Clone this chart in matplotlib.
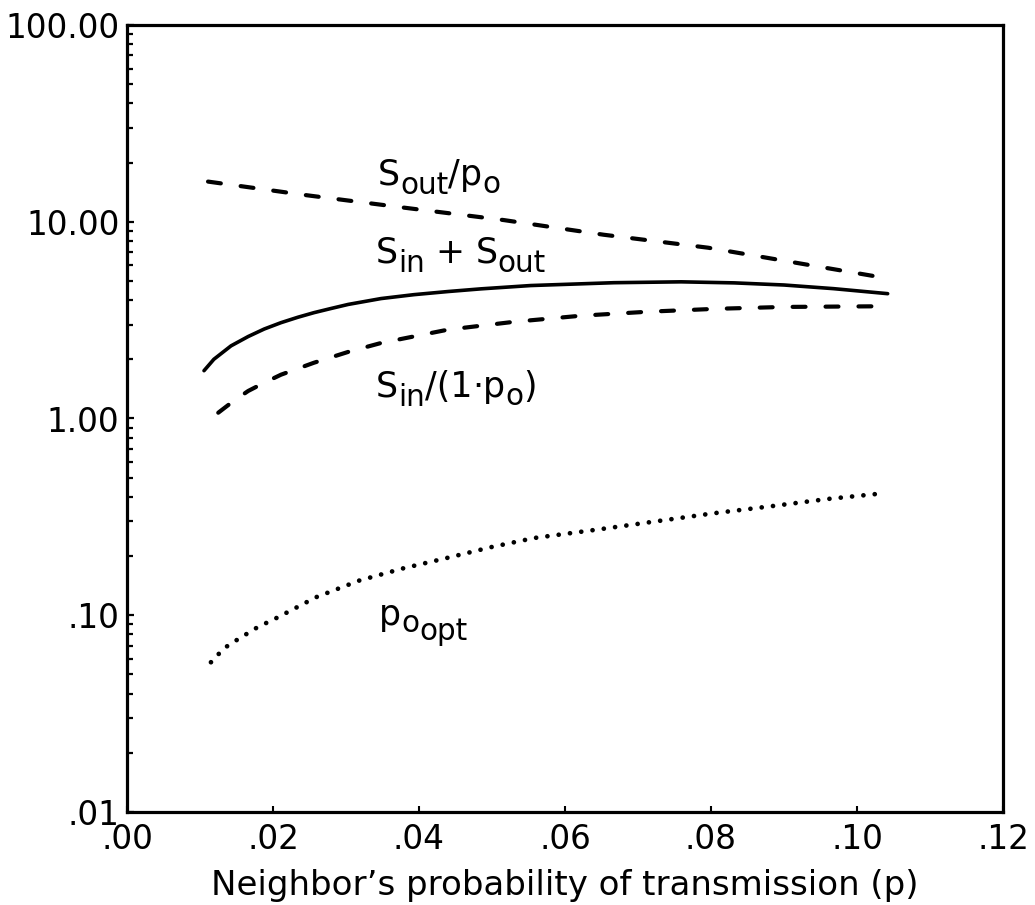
import matplotlib
matplotlib.use("Agg")
import matplotlib.pyplot as plt
from matplotlib.transforms import IdentityTransform
from matplotlib.ticker import FixedLocator, FixedFormatter, LogLocator, NullFormatter

# ---- data ----
p_sout_po = [0.0111, 0.0242, 0.0379, 0.0516, 0.0653, 0.0796, 0.0933, 0.1037]
v_sout_po = [16.0, 13.7, 11.8, 10.2, 8.59, 7.38, 6.04, 5.19]

p_sum = [0.01055, 0.0119, 0.01425, 0.0166, 0.0188, 0.0211, 0.0234, 0.0256,
         0.0279, 0.0303, 0.0348, 0.0393, 0.0440, 0.0485, 0.0553, 0.0667,
         0.0759, 0.0832, 0.0900, 0.0968, 0.1042]
v_sum = [1.75, 2.00, 2.34, 2.61, 2.85, 3.07, 3.27, 3.45,
         3.62, 3.80, 4.07, 4.26, 4.42, 4.56, 4.74, 4.90,
         4.95, 4.89, 4.77, 4.57, 4.31]

p_sin = [0.0125, 0.0145, 0.0166, 0.0188, 0.0211, 0.0256, 0.0303, 0.0348,
         0.0440, 0.0530, 0.0622, 0.0714, 0.0807, 0.0900, 0.1037]
v_sin = [1.07, 1.22, 1.38, 1.52, 1.67, 1.92, 2.18, 2.42,
         2.83, 3.10, 3.33, 3.49, 3.61, 3.69, 3.72]

p_popt = [0.0115, 0.0133, 0.0152, 0.0179, 0.0204, 0.0259, 0.0318, 0.0378,
          0.0437, 0.0499, 0.0558, 0.0649, 0.0727, 0.0804, 0.0882, 0.0960,
          0.1037]
v_popt = [0.0577, 0.068, 0.0755, 0.087, 0.0965, 0.1235, 0.150, 0.173,
          0.195, 0.222, 0.247, 0.274, 0.301, 0.330, 0.358, 0.390,
          0.417]

x_ticks = [0.00, 0.02, 0.04, 0.06, 0.08, 0.10, 0.12]
x_ticklabels = [".00", ".02", ".04", ".06", ".08", ".10", ".12"]
y_ticks = [0.01, 0.1, 1, 10, 100]
y_ticklabels = [".01", ".10", "1.00", "10.00", "100.00"]
x_label = "Neighbor\u2019s probability of transmission (p)"

# ---- figure ----
W, H, DPI = 1035, 905, 100
fig = plt.figure(figsize=(W / DPI, H / DPI), dpi=DPI)
ax = fig.add_axes([127 / W, 1 - 812 / H, (1003 - 127) / W, (812 - 25) / H])

ax.set_yscale("log")
ax.set_xlim(0, 0.12)
ax.set_ylim(0.01, 100)

lw_dash = 3.0
ax.plot(p_sout_po, v_sout_po, color="black", lw=lw_dash,
        dashes=(3.1, 4.8), dash_capstyle="round", solid_joinstyle="round")
ax.plot(p_sum, v_sum, color="black", lw=2.6, solid_capstyle="round",
        solid_joinstyle="round")
ax.plot(p_sin, v_sin, color="black", lw=lw_dash,
        dashes=(3.1, 4.8), dash_capstyle="round", solid_joinstyle="round")
ax.plot(p_popt, v_popt, color="black", lw=3.4,
        dashes=(0.01, 2.4), dash_capstyle="round")

for sp in ax.spines.values():
    sp.set_linewidth(2.3)

ax.xaxis.set_major_locator(FixedLocator(x_ticks))
ax.xaxis.set_major_formatter(FixedFormatter(x_ticklabels))
ax.yaxis.set_major_locator(FixedLocator(y_ticks))
ax.yaxis.set_major_formatter(FixedFormatter(y_ticklabels))
ax.yaxis.set_minor_locator(LogLocator(base=10, subs=range(2, 10)))
ax.yaxis.set_minor_formatter(NullFormatter())

ax.tick_params(axis="x", which="major", direction="in", length=4, width=1.5,
               labelsize=23.5, pad=8, top=False)
ax.tick_params(axis="y", which="major", direction="in", length=5, width=1.6,
               labelsize=23.5, pad=5.5, right=False)
ax.tick_params(axis="y", which="minor", direction="in", length=4, width=1.6,
               right=False)

ax.set_xlabel(x_label, fontsize=24.5)
ax.xaxis.set_label_coords(0.5, -0.072)

# ---- curve labels with subscripts ----
renderer = fig.canvas.get_renderer()
FS = 25


def rich_label(xd, yd, parts):
    x0, y0 = ax.transData.transform((xd, yd))
    x = x0
    for s, dy, sc in parts:
        t = fig.text(x, y0 + dy, s, transform=IdentityTransform(),
                     fontsize=FS * sc, ha="left", va="baseline")
        x += t.get_window_extent(renderer).width


rich_label(0.0344, 15.4, [("S", 0, 1), ("out", -9, 0.85), ("/", 0, 1),
                          ("p", 0, 1), ("o", -8, 0.85)])
rich_label(0.0341, 6.19, [("S", 0, 1), ("in", -9, 0.85), (" + ", 0, 1),
                          ("S", 0, 1), ("out", -9, 0.85)])
rich_label(0.0341, 1.29, [("S", 0, 1), ("in", -9, 0.85), ("/(1", 0, 1),
                          ("\u00b7", 0, 1), ("p", 0, 1), ("o", -8, 0.85),
                          (")", 0, 1)])
rich_label(0.0345, 0.089, [("p", 0, 1), ("o", -7, 0.85), ("opt", -15, 0.85)])

fig.savefig("out.png", dpi=DPI)
